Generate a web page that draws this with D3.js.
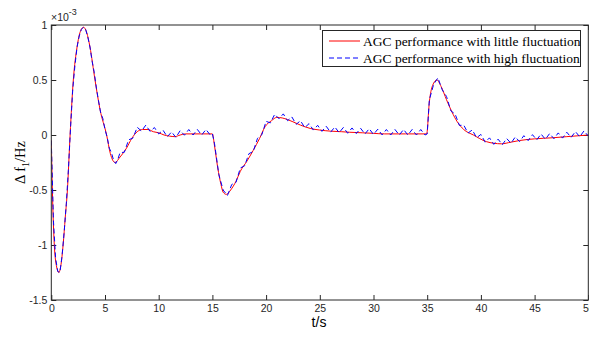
<!DOCTYPE html>
<html>
<head>
<meta charset="utf-8">
<script src="https://cdn.jsdelivr.net/npm/d3@7"></script>
<style>
  html, body { margin: 0; padding: 0; background: #fff; }
  svg { display: block; }
</style>
</head>
<body>
<svg id="chart" width="589" height="338"></svg>
<script>
// ---- Data (values in units of 1e-3 Hz) ----
const xTicks = [0, 5, 10, 15, 20, 25, 30, 35, 40, 45, 50];
const xTickLabels = ["0", "5", "10", "15", "20", "25", "30", "35", "40", "45", "50"];
const yTicks = [-1.5, -1, -0.5, 0, 0.5, 1];
const yTickLabels = ["-1.5", "-1", "-0.5", "0", "0.5", "1"];
const seriesNames = ["AGC performance with little fluctuation", "AGC performance with high fluctuation"];

// little fluctuation (red)
const redT = [0, 0.1, 0.28, 0.5, 0.7, 0.9, 1.1, 1.3, 1.5, 1.75, 2.05, 2.4, 2.7, 3.0, 3.3, 3.6, 4.07, 4.54, 5.15, 5.5, 5.93, 6.4, 7.0, 7.5, 8.0, 8.5, 9.0, 9.5, 10.0, 10.5, 11.0, 11.5, 12.0, 12.5, 13.0, 14.0, 15.0, 15.2, 15.5, 15.8, 16.0, 16.3, 16.7, 17.2, 17.6, 18.2, 18.8, 19.4, 19.9, 20.5, 21.0, 21.5, 22.0, 22.5, 23.2, 24.1, 25.0, 26.0, 27.0, 27.8, 29.0, 30.0, 31.0, 33.0, 34.95, 35.2, 35.5, 35.9, 36.3, 36.8, 37.3, 37.8, 38.4, 39.3, 40.5, 41.2, 41.9, 42.8, 43.6, 45.0, 46.7, 48.0, 50.0];
const redV = [-0.05, -0.5, -1.0, -1.2, -1.25, -1.18, -1.0, -0.75, -0.5, 0.0, 0.5, 0.8, 0.94, 0.98, 0.93, 0.8, 0.5, 0.23, 0.0, -0.17, -0.25, -0.2, -0.12, -0.03, 0.03, 0.05, 0.05, 0.03, 0.02, 0.0, -0.01, -0.015, 0.0, 0.01, 0.01, 0.01, 0.01, -0.1, -0.3, -0.45, -0.52, -0.54, -0.5, -0.42, -0.33, -0.24, -0.14, -0.03, 0.075, 0.13, 0.16, 0.155, 0.14, 0.12, 0.09, 0.06, 0.045, 0.035, 0.03, 0.025, 0.02, 0.015, 0.01, 0.01, 0.01, 0.3, 0.45, 0.5, 0.44, 0.32, 0.21, 0.12, 0.05, 0.0, -0.06, -0.075, -0.08, -0.065, -0.05, -0.035, -0.025, -0.015, 0.0];

// high fluctuation (blue)
const blueT = [0, 0.2, 0.4, 0.6, 0.8, 1.0, 1.2, 1.4, 1.6, 1.8, 2.0, 2.2, 2.4, 2.6, 2.8, 3.0, 3.2, 3.4, 3.6, 3.8, 4.0, 4.2, 4.4, 4.6, 4.8, 5.0, 5.2, 5.4, 5.6, 5.8, 6.0, 6.2, 6.4, 6.8, 7.2, 7.6, 8.0, 8.4, 8.8, 9.2, 9.6, 10.0, 10.4, 10.8, 11.2, 11.6, 12.0, 12.4, 12.8, 13.2, 13.6, 14.0, 14.4, 14.8, 15.0, 15.2, 15.6, 16.0, 16.4, 16.8, 17.2, 17.6, 18.0, 18.4, 18.8, 19.2, 19.6, 20.0, 20.4, 20.8, 21.2, 21.6, 22.0, 22.4, 22.8, 23.2, 23.6, 24.0, 24.4, 24.8, 25.2, 25.6, 26.0, 26.4, 26.8, 27.2, 27.6, 28.0, 28.4, 28.8, 29.2, 29.6, 30.0, 30.4, 30.8, 31.2, 31.6, 32.0, 32.4, 32.8, 33.2, 33.6, 34.0, 34.4, 34.8, 35.0, 35.2, 35.6, 36.0, 36.4, 36.8, 37.2, 37.6, 38.0, 38.4, 38.8, 39.2, 39.6, 40.0, 40.4, 40.8, 41.2, 41.6, 42.0, 42.4, 42.8, 43.2, 43.6, 44.0, 44.4, 44.8, 45.2, 45.6, 46.0, 46.4, 46.8, 47.2, 47.6, 48.0, 48.4, 48.8, 49.2, 49.6, 50.0];
const blueV = [-0.05, -0.78, -1.12, -1.24, -1.25, -1.1, -0.88, -0.62, -0.3, 0.08, 0.42, 0.63, 0.8, 0.9, 0.96, 0.98, 0.96, 0.89, 0.8, 0.67, 0.57, 0.425, 0.31, 0.2, 0.15, 0.05, -0.02, -0.12, -0.16, -0.23, -0.26, -0.22, -0.16, -0.157, -0.044, -0.028, 0.07, 0.036, 0.09, 0.032, 0.068, 0.01, 0.044, -0.016, 0.028, -0.022, 0.04, -0.002, 0.05, 0.0, 0.05, 0.0, 0.05, 0.0, 0.01, -0.08, -0.36, -0.5, -0.55, -0.45, -0.43, -0.3, -0.28, -0.17, -0.15, -0.03, 0.002, 0.124, 0.11, 0.188, 0.148, 0.192, 0.13, 0.164, 0.097, 0.13, 0.067, 0.103, 0.045, 0.088, 0.033, 0.079, 0.025, 0.073, 0.021, 0.069, 0.016, 0.064, 0.013, 0.061, 0.009, 0.057, 0.005, 0.053, 0.001, 0.05, 0.0, 0.05, 0.0, 0.05, 0.0, 0.05, 0.0, 0.05, 0.0, 0.01, 0.32, 0.46, 0.52, 0.41, 0.35, 0.22, 0.19, 0.087, 0.09, 0.018, 0.046, -0.025, 0.005, -0.065, -0.026, -0.085, -0.038, -0.088, -0.032, -0.075, -0.018, -0.06, -0.006, -0.051, 0.003, -0.044, 0.009, -0.039, 0.013, -0.034, 0.019, -0.028, 0.025, -0.022, 0.031, -0.016, 0.037, -0.01];

// ---- Layout ----
const svg = d3.select("#chart");
const L = 51.3, R = 588.3, T = 25, B = 300;
const x = d3.scaleLinear().domain([0, 50]).range([L, R]);
const y = d3.scaleLinear().domain([-1.5, 1]).range([B, T]);
const tickFont = "'Liberation Sans', Arial, sans-serif";
const serif = "'Liberation Serif', 'Times New Roman', serif";

svg.append("rect").attr("x", 0).attr("y", 0).attr("width", 589).attr("height", 338).attr("fill", "#fff");

svg.append("defs").append("clipPath").attr("id", "plotclip")
  .append("rect").attr("x", L).attr("y", T - 2).attr("width", R - L).attr("height", B - T + 4);

// axes
function styleAxis(g) {
  g.select(".domain").remove();
  g.selectAll("line").attr("stroke", "#262626");
  g.selectAll("text").attr("fill", "#262626").style("font-family", tickFont).style("font-size", "10.5px");
}
svg.append("g").attr("transform", `translate(0,${B})`)
  .call(d3.axisBottom(x).tickValues(xTicks).tickFormat((d, i) => xTickLabels[i]).tickSizeInner(-5).tickSizeOuter(0).tickPadding(5))
  .call(styleAxis);
svg.append("g").attr("transform", `translate(0,${T})`)
  .call(d3.axisTop(x).tickValues(xTicks).tickFormat("").tickSizeInner(-5).tickSizeOuter(0))
  .call(styleAxis);
svg.append("g").attr("transform", `translate(${L},0)`)
  .call(d3.axisLeft(y).tickValues(yTicks).tickFormat((d, i) => yTickLabels[i]).tickSizeInner(-5).tickSizeOuter(0).tickPadding(4))
  .call(styleAxis);
svg.append("g").attr("transform", `translate(${R},0)`)
  .call(d3.axisRight(y).tickValues(yTicks).tickFormat("").tickSizeInner(-5).tickSizeOuter(0))
  .call(styleAxis);

// lines
const line = d3.line().x(d => x(d[0])).y(d => y(d[1]));
const redData = redT.map((t, i) => [t, redV[i]]);
const blueData = blueT.map((t, i) => [t, blueV[i]]);
const plot = svg.append("g").attr("clip-path", "url(#plotclip)");
plot.append("path").datum(redData)
  .attr("d", line.curve(d3.curveMonotoneX))
  .attr("fill", "none").attr("stroke", "#ff0000").attr("stroke-width", 1);
plot.append("path").datum(blueData)
  .attr("d", line.curve(d3.curveLinear))
  .attr("fill", "none").attr("stroke", "#0000ff").attr("stroke-width", 1)
  .attr("stroke-dasharray", "5,3");

// frame
svg.append("rect").attr("x", L).attr("y", T).attr("width", R - L).attr("height", B - T)
  .attr("fill", "none").attr("stroke", "#262626").attr("stroke-width", 1);

// exponent label
const exp = svg.append("text").attr("x", 51).attr("y", 21)
  .style("font-family", tickFont).style("font-size", "10.5px").attr("fill", "#262626");
exp.append("tspan").text("\u00d710");
exp.append("tspan").attr("dy", -6).style("font-size", "9px").text("-3");

// axis labels
svg.append("text").attr("x", 319).attr("y", 327).attr("text-anchor", "middle")
  .style("font-family", tickFont).style("font-size", "14px").attr("fill", "#000").text("t/s");
const yl = svg.append("text").attr("transform", "translate(25,162.5) rotate(-90)").attr("text-anchor", "middle")
  .style("font-family", serif).style("font-size", "14.5px").attr("fill", "#000");
yl.append("tspan").text("\u0394 f");
yl.append("tspan").attr("dy", 4).style("font-size", "10px").text("1");
yl.append("tspan").attr("dy", -4).text("/Hz");

// legend
const lg = svg.append("g");
lg.append("rect").attr("x", 322.5).attr("y", 30.5).attr("width", 258).attr("height", 36)
  .attr("fill", "#fff").attr("stroke", "#262626").attr("stroke-width", 1);
const rows = [{c: "#ff0000", dash: null, yy: 41}, {c: "#0000ff", dash: "5,3", yy: 58}];
rows.forEach((r, i) => {
  lg.append("line").attr("x1", 329).attr("x2", 360).attr("y1", r.yy).attr("y2", r.yy)
    .attr("stroke", r.c).attr("stroke-width", 1).attr("stroke-dasharray", r.dash);
  lg.append("text").attr("x", 363).attr("y", r.yy + 4.5)
    .style("font-family", serif).style("font-size", "13.5px").attr("fill", "#000").text(seriesNames[i]);
});
</script>
</body>
</html>
